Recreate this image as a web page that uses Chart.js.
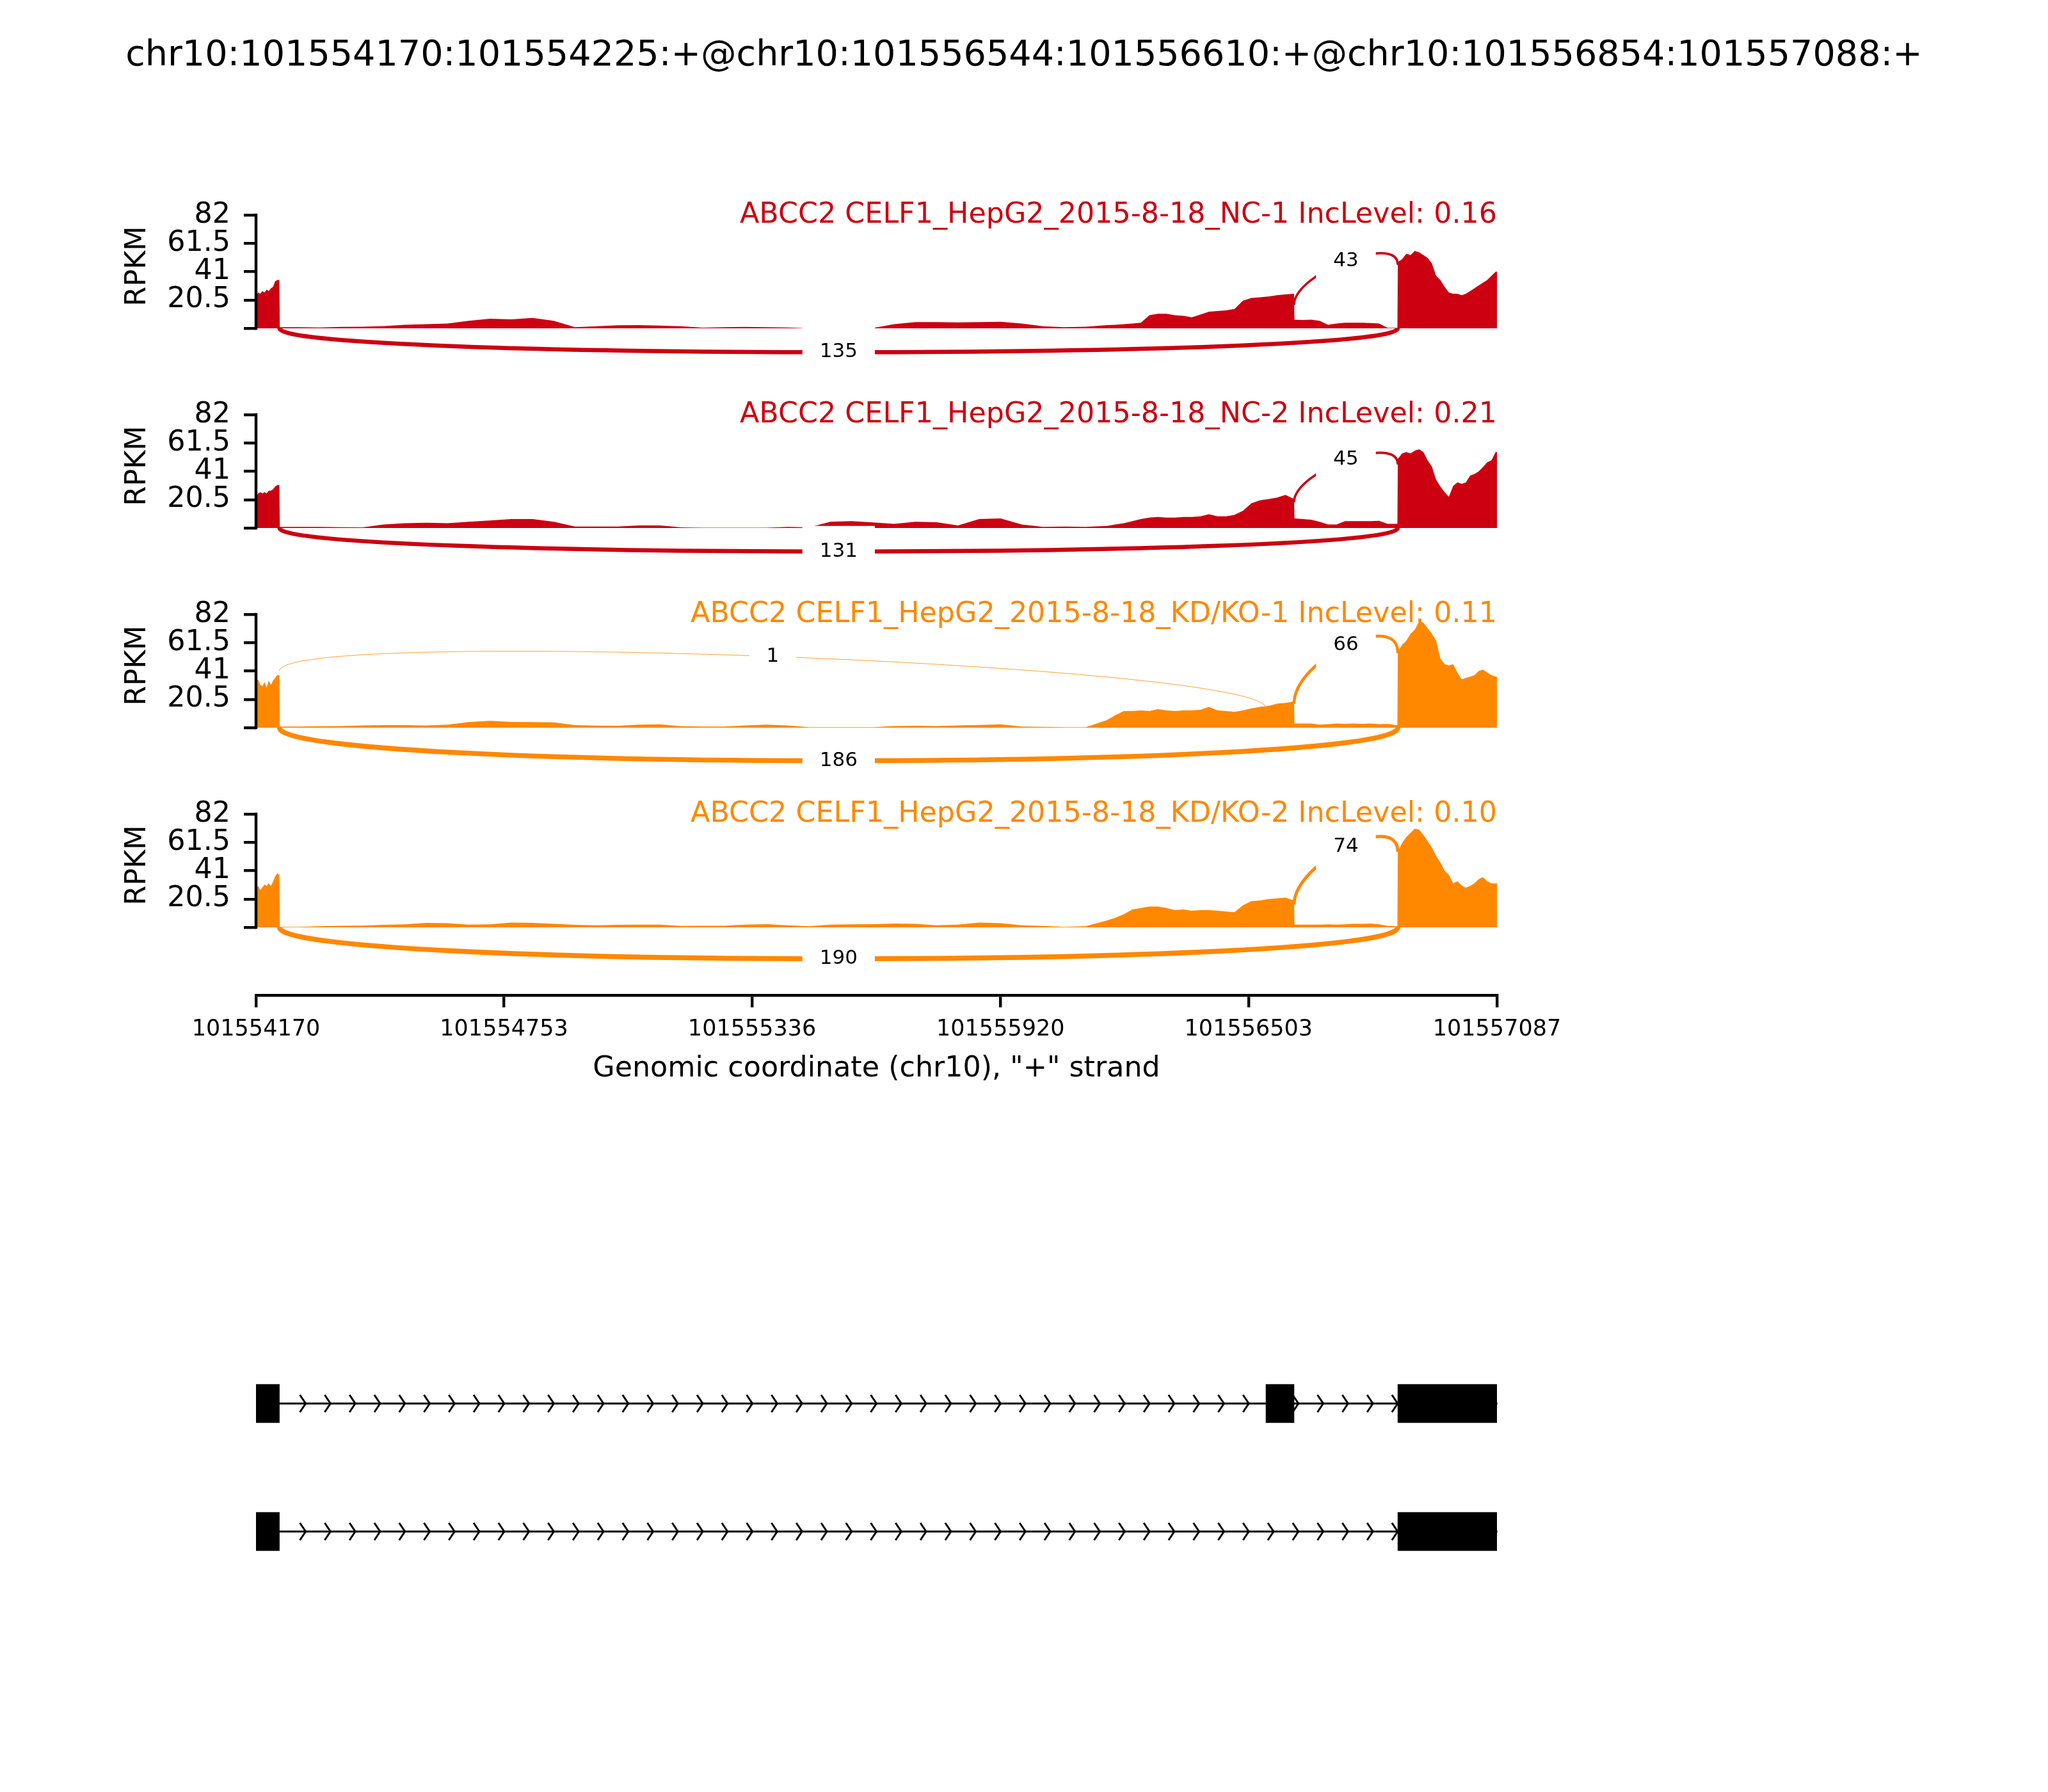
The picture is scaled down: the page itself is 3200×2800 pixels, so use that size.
<!DOCTYPE html>
<html>
<head>
<meta charset="utf-8">
<script src="https://cdn.jsdelivr.net/npm/chart.js@4.4.1/dist/chart.umd.min.js"></script>
<style>
  html, body { margin: 0; padding: 0; background: #fff; }
  #page { position: relative; width: 3200px; height: 2800px; overflow: hidden; background: #fff; }
  #page canvas { position: absolute; left: 0; }
  #suptitle { position: absolute; left: 0; top: 55px; width: 3200px; text-align: center;
              font: 55.6px/55.6px "DejaVu Sans"; color: #000; white-space: nowrap; }
</style>
</head>
<body>
<div id="page">
  <div id="suptitle">chr10:101554170:101554225:+@chr10:101556544:101556610:+@chr10:101556854:101557088:+</div>
</div>
<script>
// ---- data ----
const regionStart = 101554170;
const regionEnd = 101557087;
const xTicks = [101554170, 101554753, 101555336, 101555920, 101556503, 101557087];
const yTicks = [0, 20.5, 41, 61.5, 82];

// coverage sample positions, bp from regionStart
const covOffsets = [
  0, 5, 10, 15, 20, 25, 30, 35, 40, 45, 50, 55,
  56, 100, 150, 200, 250, 300, 350, 400, 450, 500,
  550, 600, 650, 700, 750, 800, 850, 900, 950, 1000,
  1050, 1100, 1150, 1200, 1250, 1300, 1350, 1400, 1450, 1500,
  1550, 1600, 1650, 1700, 1750, 1800, 1850, 1900, 1950,
  2000, 2020, 2040, 2060, 2080, 2100, 2120, 2140, 2160, 2180, 2200, 2220,
  2240, 2260, 2280, 2300, 2320, 2340, 2360, 2380, 2400, 2420, 2440,
  2441, 2460, 2480, 2500, 2520, 2540, 2560, 2580, 2600, 2620, 2640, 2660, 2680, 2683,
  2684, 2694, 2704, 2714, 2724, 2734, 2744, 2754, 2764, 2774, 2784, 2794,
  2804, 2814, 2824, 2834, 2844, 2854, 2864, 2874, 2884, 2894, 2904, 2914, 2917
];

const covNC1 = [
  24, 26, 25, 27, 26, 28, 27, 29, 30, 34, 35, 35,
  0.8, 0.8, 0.6, 1.0, 1.2, 1.6, 2.5, 3.0, 3.5, 5.5,
  7.0, 6.5, 7.5, 5.5, 0.8, 1.5, 2.2, 2.3, 2.0, 1.5,
  0.5, 0.8, 1.0, 0.8, 0.6, 0, 0, 0.3, 0.2, 3.0,
  4.5, 4.5, 4.3, 4.5, 4.8, 3.5, 1.5, 0.8, 1.2,
  2.3, 2.6, 3.0, 3.5, 4.0, 9.5, 10.5, 10.5, 9.5, 9.0, 8.0, 10,
  12, 12.5, 13, 14, 20, 22, 22.5, 23, 24, 24.5, 25,
  6.2, 6.0, 6.2, 5.5, 2.5, 3.5, 4.0, 4.0, 4.0, 3.8, 3.5, 0.3, 0.3, 0.3,
  48, 50, 54, 53, 56, 55, 53, 51, 47, 38, 35, 30,
  26, 25, 25, 24, 25, 27, 29, 31, 33, 35, 38, 41, 41
];
const covNC2 = [
  22, 25, 26, 25, 26, 25, 27, 27, 28, 30, 31, 31,
  0.8, 0.8, 0.8, 0.6, 0.5, 2.5, 3.5, 3.8, 3.5, 4.5,
  5.5, 6.5, 6.5, 4.5, 1.0, 1.0, 1.0, 1.8, 1.8, 0.5,
  0.2, 0.2, 0.2, 0.2, 0.8, 0.5, 4.5, 5.0, 4.0, 3.0,
  4.5, 4.2, 1.8, 6.5, 7.0, 2.5, 0.8, 1.0, 0.8,
  1.5, 2.5, 3.5, 5.0, 6.5, 7.5, 8.0, 7.5, 7.5, 8.0, 8.0, 8.5,
  10, 8.5, 8.5, 9.5, 12.5, 18, 20, 21, 22, 24, 21,
  7.0, 6.5, 6.0, 4.5, 2.5, 2.5, 5.0, 5.0, 5.0, 5.0, 5.2, 3.0, 3.0, 3.0,
  50, 54, 55, 54, 56, 57, 55, 49, 44.5, 35, 30, 26,
  22.6, 30.5, 33, 32, 33, 38, 39, 41, 44, 47.6, 49, 55, 55
];
const covKD1 = [
  33, 35, 31, 30, 33, 29, 34, 31, 34, 36, 38, 38,
  0.8, 0.8, 1.0, 1.2, 1.6, 1.8, 1.8, 1.6, 2.2, 4.0,
  5.0, 4.2, 4.0, 3.8, 1.8, 1.5, 1.4, 2.2, 2.4, 1.0,
  0.8, 0.8, 1.6, 2.2, 1.6, 0.3, 0.3, 0.3, 0.4, 1.2,
  1.4, 1.2, 1.6, 2.0, 2.4, 0.8, 0.6, 0.3, 0.4,
  5.5, 9, 12, 12, 12.5, 12, 13.4, 12.5, 12, 12.5, 12.5, 13,
  15, 12.5, 12, 11.5, 12.5, 14, 15, 15.8, 17.4, 18, 19,
  3.0, 3.0, 3.0, 2.2, 2.5, 3.0, 2.8, 3.0, 2.8, 3.0, 2.5, 2.8, 1.8, 1.8,
  55, 60, 63, 68, 71, 77, 76, 72, 68, 63, 50, 46,
  45, 46, 40, 35, 36, 37, 38, 41, 42, 40, 38, 37, 37
];
const covKD2 = [
  28, 30, 27, 29, 31, 30, 32, 30, 33, 37, 39, 38,
  0.4, 0.4, 0.8, 1.2, 1.3, 1.8, 2.2, 3.2, 3.0, 2.0,
  2.2, 3.5, 3.2, 2.5, 1.8, 1.5, 1.8, 2.0, 2.0, 1.0,
  1.2, 1.2, 2.0, 2.3, 1.5, 0.8, 2.0, 2.2, 2.3, 2.8,
  2.6, 1.5, 2.0, 3.5, 3.0, 1.5, 1.0, 0.4, 0.8,
  5.0, 7, 9.5, 13, 14, 15, 15, 14, 12.5, 13, 12, 12.5,
  12.5, 12, 11.5, 11, 16, 19, 19.5, 20.5, 21, 21.5, 19.5,
  2.0, 2.0, 2.0, 2.0, 2.2, 2.0, 2.2, 2.6, 2.5, 2.8, 2.2, 1.0, 0.8, 0.8,
  54.7, 61, 65.4, 68.5, 71.5, 70.8, 67, 62.4, 57.8, 51.7, 47, 41,
  38, 31.8, 33.3, 30.3, 28.7, 30, 31.8, 34.9, 36.4, 33.3, 31.8, 31.8, 31.8
];

// junctions: reads, and for arcs above the track the coverage height at each end
const junctionsNC1 = [
  {from: 101554225, to: 101556854, reads: 135, side: 'below'},
  {from: 101556610, to: 101556854, reads: 43, side: 'above', yFrom: 17, yTo: 46}
];
const junctionsNC2 = [
  {from: 101554225, to: 101556854, reads: 131, side: 'below'},
  {from: 101556610, to: 101556854, reads: 45, side: 'above', yFrom: 18.7, yTo: 46}
];
const junctionsKD1 = [
  {from: 101554225, to: 101556854, reads: 186, side: 'below'},
  {from: 101556610, to: 101556854, reads: 66, side: 'above', yFrom: 17.4, yTo: 54},
  {from: 101554225, to: 101556544, reads: 1, side: 'above', yFrom: 41, yTo: 14.2}
];
const junctionsKD2 = [
  {from: 101554225, to: 101556854, reads: 190, side: 'below'},
  {from: 101556610, to: 101556854, reads: 74, side: 'above', yFrom: 16.5, yTo: 54.7}
];

const sampleNames = [
  'ABCC2 CELF1_HepG2_2015-8-18_NC-1',
  'ABCC2 CELF1_HepG2_2015-8-18_NC-2',
  'ABCC2 CELF1_HepG2_2015-8-18_KD/KO-1',
  'ABCC2 CELF1_HepG2_2015-8-18_KD/KO-2'
];
const incLevels = ['0.16', '0.21', '0.11', '0.10'];
const sampleCoverage = [covNC1, covNC2, covKD1, covKD2];
const sampleJunctions = [junctionsNC1, junctionsNC2, junctionsKD1, junctionsKD2];

const tx1Exons = [[101554170, 101554225], [101556544, 101556610], [101556854, 101557088]];
const tx2Exons = [[101554170, 101554225], [101556854, 101557088]];

// ---- layout / style ----
const W = 3200;
const PLOT_LEFT = 400, PLOT_RIGHT = 2339;
const PX_PER_UNIT = 177 / 82;
const PANEL_TOP = [336, 648, 960, 1272];
const X_AXIS_Y = 1555;
const sampleColors = ['#CC0011', '#CC0011', '#FF8800', '#FF8800'];
const arcHeights = [23, 22.7, 31.9, 30.3];

Chart.defaults.font.family = '"DejaVu Sans"';
Chart.defaults.color = '#000';

const page = document.getElementById('page');

function addCanvas(top, height) {
  const c = document.createElement('canvas');
  c.width = W; c.height = height;
  c.style.top = top + 'px';
  c.style.width = W + 'px'; c.style.height = height + 'px';
  page.appendChild(c);
  return c;
}

const sashimiPlugin = {
  id: 'sashimi',
  afterDatasetsDraw(chart, args, opts) {
    const {ctx, chartArea} = chart;
    const xs = chart.scales.x, ys = chart.scales.y;
    const h = opts.arcHeight;
    ctx.save();

    // y spine only over 0..82
    ctx.strokeStyle = '#000';
    ctx.lineWidth = 4.4;
    ctx.beginPath();
    ctx.moveTo(chartArea.left, ys.getPixelForValue(0) + 2.2);
    ctx.lineTo(chartArea.left, ys.getPixelForValue(82) - 2.2);
    ctx.stroke();

    // junction arcs
    const labels = [];
    opts.junctions.forEach(j => {
      const x1 = xs.getPixelForValue(j.from), x2 = xs.getPixelForValue(j.to);
      let a, b, c1, c2;
      if (j.side === 'below') { a = 0; b = 0; c1 = -h; c2 = -h; }
      else { a = j.yFrom; b = j.yTo; c1 = j.yFrom + h; c2 = j.yTo + h; }
      const p0 = [x1, ys.getPixelForValue(a)], p1 = [x1, ys.getPixelForValue(c1)];
      const p2 = [x2, ys.getPixelForValue(c2)], p3 = [x2, ys.getPixelForValue(b)];
      ctx.beginPath();
      ctx.moveTo(p0[0], p0[1]);
      ctx.bezierCurveTo(p1[0], p1[1], p2[0], p2[1], p3[0], p3[1]);
      ctx.lineWidth = Math.max(0.8, 0.56 * Math.sqrt(j.reads));
      ctx.strokeStyle = opts.color;
      ctx.stroke();
      labels.push({
        x: (p0[0] + 3 * p1[0] + 3 * p2[0] + p3[0]) / 8,
        y: (p0[1] + 3 * p1[1] + 3 * p2[1] + p3[1]) / 8,
        text: String(j.reads)
      });
    });

    ctx.font = '31px "DejaVu Sans"';
    ctx.textAlign = 'center';
    ctx.textBaseline = 'middle';
    labels.forEach(l => {
      const w = ctx.measureText(l.text).width + 54;
      ctx.fillStyle = '#fff';
      ctx.fillRect(l.x - w / 2, l.y - 40, w, 80);
    });
    ctx.fillStyle = '#000';
    labels.forEach(l => ctx.fillText(l.text, l.x, l.y));

    // sample title
    ctx.font = '44.4px "DejaVu Sans"';
    ctx.textAlign = 'right';
    ctx.textBaseline = 'alphabetic';
    ctx.fillStyle = opts.color;
    ctx.fillText(opts.title, chartArea.right, ys.getPixelForValue(82) + 12);

    // y label
    ctx.translate(215, ys.getPixelForValue(45));
    ctx.rotate(-Math.PI / 2);
    ctx.fillStyle = '#000';
    ctx.textAlign = 'center';
    ctx.textBaseline = 'middle';
    ctx.fillText('RPKM', 0, 0);
    ctx.restore();
  }
};

function makePanel(i) {
  const last = i === 3;
  const padTop = 80;
  const xAxisH = last ? 142 : 0;
  const yMin = last ? -(X_AXIS_Y - (PANEL_TOP[i] + 177)) / PX_PER_UNIT : -43;
  const areaH = (82 - yMin) * PX_PER_UNIT;
  const canvasH = Math.ceil(padTop + areaH + xAxisH + (last ? 10 : 60));
  const padBottom = canvasH - padTop - areaH - xAxisH;
  const canvas = addCanvas(PANEL_TOP[i] - padTop, canvasH);

  const values = sampleCoverage[i];
  const points = covOffsets.map((o, k) => ({x: regionStart + o, y: values[k]}));

  const xScale = {
    type: 'linear', min: regionStart, max: regionEnd, display: last
  };
  if (last) {
    Object.assign(xScale, {
      position: 'bottom',
      afterBuildTicks: s => { s.ticks = xTicks.map(v => ({value: v})); },
      afterFit: s => { s.height = xAxisH; },
      border: {display: true, color: '#000', width: 4.4},
      grid: {drawOnChartArea: false, drawTicks: true, tickLength: 19, lineWidth: 4.4, color: '#000'},
      ticks: {color: '#000', font: {size: 35}, padding: 14, maxRotation: 0, autoSkip: false,
              callback: v => String(v)},
      title: {display: true, text: 'Genomic coordinate (chr10), "+" strand', color: '#000',
              font: {size: 44.4}, padding: 0}
    });
  }

  new Chart(canvas, {
    type: 'line',
    data: {
      datasets: [{
        data: points,
        fill: 'origin',
        backgroundColor: sampleColors[i],
        borderColor: 'rgba(0,0,0,0)',
        borderWidth: 0,
        pointRadius: 0,
        tension: 0
      }]
    },
    options: {
      responsive: false,
      animation: false,
      devicePixelRatio: 1,
      layout: {padding: {top: padTop, right: W - PLOT_RIGHT, bottom: padBottom, left: 0}},
      plugins: {
        legend: {display: false},
        tooltip: {enabled: false},
        sashimi: {
          junctions: sampleJunctions[i],
          color: sampleColors[i],
          arcHeight: arcHeights[i],
          title: sampleNames[i] + ' IncLevel: ' + incLevels[i]
        }
      },
      scales: {
        x: xScale,
        y: {
          type: 'linear', min: yMin, max: 82,
          afterBuildTicks: s => { s.ticks = yTicks.map(v => ({value: v})); },
          afterFit: s => { s.width = PLOT_LEFT; },
          border: {display: false},
          grid: {drawOnChartArea: false, drawTicks: true, tickLength: 19, lineWidth: 4.4, color: '#000'},
          ticks: {color: '#000', font: {size: 44.4}, padding: 21, autoSkip: false,
                  callback: v => (v === 0 ? '' : String(v))}
        }
      }
    },
    plugins: [sashimiPlugin]
  });
}

for (let i = 0; i < 4; i++) makePanel(i);

// ---- gene model ----
const genePlugin = {
  id: 'geneModel',
  beforeDatasetsDraw(chart, args, opts) {
    const {ctx} = chart;
    const xs = chart.scales.x, ys = chart.scales.y;
    const step = (regionEnd - regionStart) / 50;
    ctx.save();
    ctx.strokeStyle = '#000';
    ctx.lineWidth = 3;
    opts.transcripts.forEach((exons, t) => {
      const y = ys.getPixelForValue(t);
      ctx.beginPath();
      ctx.moveTo(xs.getPixelForValue(exons[0][0]), y);
      ctx.lineTo(xs.getPixelForValue(exons[exons.length - 1][1]), y);
      ctx.stroke();
      for (let k = 2; k <= 46; k++) {
        const tip = xs.getPixelForValue(regionStart + k * step);
        ctx.beginPath();
        ctx.moveTo(tip - 9, y - 13.5);
        ctx.lineTo(tip, y);
        ctx.lineTo(tip - 9, y + 13.5);
        ctx.stroke();
      }
    });
    ctx.restore();
  }
};

const exonDatasets = [];
[tx1Exons, tx2Exons].forEach((exons, t) => {
  exons.forEach(e => {
    const d = [null, null];
    d[t] = e;
    exonDatasets.push({data: d, backgroundColor: '#000', borderWidth: 0});
  });
});

const geneCanvas = addCanvas(2050, 463);
new Chart(geneCanvas, {
  type: 'bar',
  data: {labels: ['tx1', 'tx2'], datasets: exonDatasets},
  options: {
    indexAxis: 'y',
    responsive: false,
    animation: false,
    devicePixelRatio: 1,
    layout: {padding: {top: 43, right: W - PLOT_RIGHT, bottom: 20, left: PLOT_LEFT}},
    datasets: {bar: {grouped: false, barThickness: 60}},
    plugins: {
      legend: {display: false},
      tooltip: {enabled: false},
      geneModel: {transcripts: [tx1Exons, tx2Exons]}
    },
    scales: {
      x: {type: 'linear', min: regionStart, max: regionEnd, display: false},
      y: {type: 'category', display: false, offset: true}
    }
  },
  plugins: [genePlugin]
});
</script>
</body>
</html>
